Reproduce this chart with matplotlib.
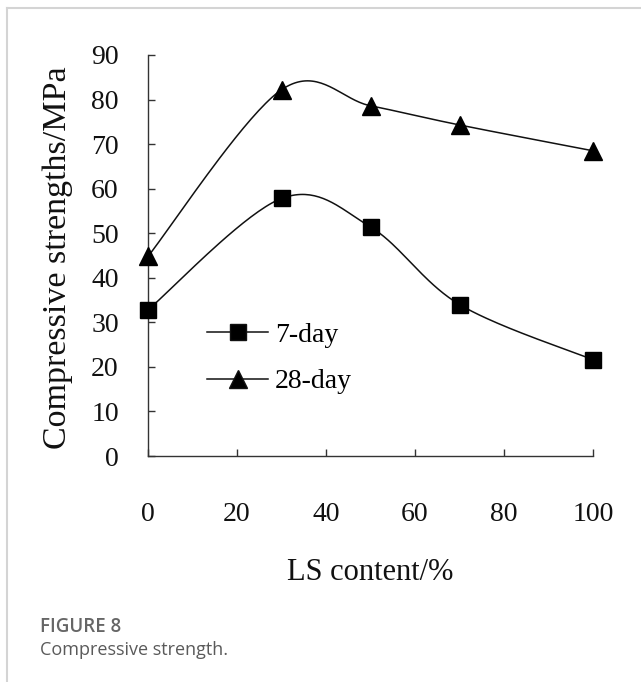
import matplotlib
matplotlib.use("Agg")
import matplotlib.pyplot as plt
from matplotlib.lines import Line2D
import numpy as np

# data
ls_content = [0, 30, 50, 70, 100]
day7 = [32.8, 57.8, 51.4, 34.0, 21.6]
day28 = [44.8, 82.2, 78.6, 74.3, 68.5]
x_ticks = [0, 20, 40, 60, 80, 100]
y_ticks = [0, 10, 20, 30, 40, 50, 60, 70, 80, 90]


def smooth(x, y, n=40):
    # Excel-like smoothed line (Catmull-Rom through the points)
    p = np.column_stack([x, y]).astype(float)
    p = np.vstack([p[0], p, p[-1]])
    out = []
    for i in range(1, len(p) - 2):
        p0, p1, p2, p3 = p[i - 1], p[i], p[i + 1], p[i + 2]
        c1 = p1 + (p2 - p0) / 6
        c2 = p2 - (p3 - p1) / 6
        t = np.linspace(0, 1, n)[:, None]
        seg = ((1 - t) ** 3) * p1 + 3 * ((1 - t) ** 2) * t * c1 + 3 * (1 - t) * t ** 2 * c2 + t ** 3 * p2
        out.append(seg if i == 1 else seg[1:])
    out = np.vstack(out)
    return out[:, 0], out[:, 1]


serif = "Liberation Serif"
fig = plt.figure(figsize=(6.41, 6.82), dpi=100)
W, H = 641, 682

ax = fig.add_axes([148 / W, 1 - 456 / H, 445 / W, 401 / H])

for vals, mk, ms, lab in [(day7, "s", 12, "7-day"), (day28, "^", 13, "28-day")]:
    sx, sy = smooth(ls_content, vals)
    ax.plot(sx, sy, color="#111111", lw=1.1, clip_on=False)
    ax.plot(ls_content, vals, ls="none", marker=mk, ms=ms, color="#000000", clip_on=False, zorder=3)

handles = [
    Line2D([], [], color="#111111", lw=1.1, marker="s", ms=12, markerfacecolor="black"),
    Line2D([], [], color="#111111", lw=1.1, marker="^", ms=13, markerfacecolor="black"),
]
ax.legend(handles, ["7-day", "28-day"], loc="center left", bbox_to_anchor=(0.133, 0.243),
          frameon=False, borderpad=0, borderaxespad=0, handlelength=2.2, handletextpad=0.25,
          labelspacing=0.75, prop={"family": serif, "size": 20})

ax.set_xlim(0, 100)
ax.set_ylim(0, 90)
ax.set_xticks(x_ticks)
ax.set_yticks(y_ticks)
for s in ["top", "right"]:
    ax.spines[s].set_visible(False)
for s in ["left", "bottom"]:
    ax.spines[s].set_color("#333333")
    ax.spines[s].set_linewidth(1.0)
ax.tick_params(axis="both", direction="in", length=5, width=1, color="#333333",
               labelsize=20, labelcolor="#111111")
ax.tick_params(axis="y", pad=21)
ax.tick_params(axis="x", pad=33)
for lbl in ax.get_xticklabels() + ax.get_yticklabels():
    lbl.set_fontfamily(serif)

fig.text(58 / W, 1 - 258 / H, "Compressive strengths/MPa", rotation=90, ha="center", va="center",
         family=serif, fontsize=24.5, color="#111111")
fig.text(370 / W, 1 - 572 / H, "LS content/%", ha="center", va="center",
         family=serif, fontsize=22, color="#111111")

# page frame and caption
fig.add_artist(Line2D([7 / W, 1], [1 - 8 / H, 1 - 8 / H], transform=fig.transFigure, color="#d4d4d4", lw=1.5))
fig.add_artist(Line2D([7 / W, 7 / W], [0, 1 - 8 / H], transform=fig.transFigure, color="#d4d4d4", lw=1.5))
fig.text(40 / W, 1 - 627 / H, "FIGURE 8", ha="left", va="center", family="Open Sans",
         fontsize=13.5, fontweight="semibold", color="#666666")
fig.text(40 / W, 1 - 650 / H, "Compressive strength.", ha="left", va="center", family="Open Sans",
         fontsize=13, color="#5a5a5a")

fig.savefig("out.png", dpi=100)
